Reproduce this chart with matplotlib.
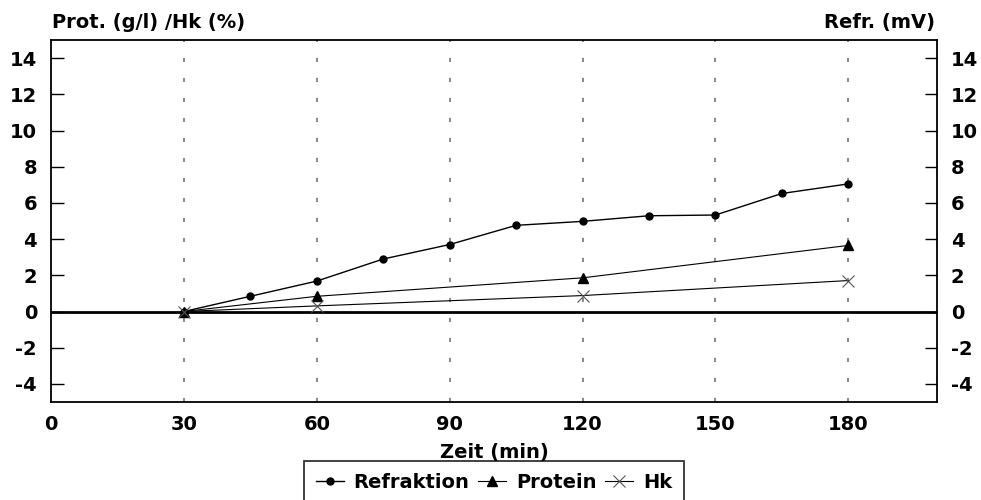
import matplotlib
matplotlib.use('Agg')
import matplotlib.pyplot as plt

plt.rcParams['font.family'] = ['DejaVu Sans']
plt.rcParams['font.weight'] = 'bold'
plt.rcParams['axes.labelweight'] = 'bold'
plt.rcParams['axes.unicode_minus'] = False

# data
t_refr = [30, 45, 60, 75, 90, 105, 120, 135, 150, 165, 180]
refraktion = [0.0, 0.84, 1.68, 2.9, 3.7, 4.76, 4.98, 5.29, 5.33, 6.52, 7.05]
t_lab = [30, 60, 120, 180]
protein = [0.0, 0.84, 1.86, 3.65]
hk = [0.0, 0.31, 0.88, 1.71]

xticks = [0, 30, 60, 90, 120, 150, 180]
yticks = [-4, -2, 0, 2, 4, 6, 8, 10, 12, 14]

fig = plt.figure(figsize=(9.81, 5.0), dpi=100)
ax = fig.add_axes([0.052, 0.196, 0.903, 0.724])

# dotted vertical guides
for x in xticks[1:]:
    ax.axvline(x, color='#777777', lw=1.2, dashes=(2.5, 9.5), zorder=1)
ax.axhline(0, color='black', lw=2, zorder=2)

ax.plot(t_refr, refraktion, color='black', lw=1, marker='o', ms=5,
        mfc='black', mec='black', label='Refraktion', zorder=4)
ax.plot(t_lab, protein, color='black', lw=0.8, marker='^', ms=7,
        mfc='black', mec='black', label='Protein', zorder=4)
ax.plot(t_lab, hk, color='black', lw=0.8, marker='x', ms=8,
        mec='#555555', mew=0.8, label='Hk', zorder=4)

ax.set_xlim(0, 200)
ax.set_ylim(-5, 15)
ax.set_xticks(xticks)
ax.set_yticks(yticks)
ax.tick_params(axis='x', length=0, pad=9, labelsize=14)
ax.tick_params(axis='y', direction='in', length=9, width=1, labelsize=14,
               left=True, right=True, labelleft=True, labelright=True, pad=10)
for s in ax.spines.values():
    s.set_linewidth(1.3)

ax.set_xlabel('Zeit (min)', fontsize=14, labelpad=7)
fig.text(0.053, 0.955, 'Prot. (g/l) /Hk (%)', fontsize=14, ha='left', va='center')
fig.text(0.953, 0.955, 'Refr. (mV)', fontsize=14, ha='right', va='center')

leg = ax.legend(loc='upper center', bbox_to_anchor=(0.5, -0.163), ncol=3,
                frameon=True, fancybox=False, fontsize=14, handlelength=1.45,
                handletextpad=0.5, columnspacing=0.45, borderpad=0.6,
                borderaxespad=0)
leg.get_frame().set_edgecolor('black')
leg.get_frame().set_linewidth(1.3)

fig.savefig('out.png', dpi=100)
